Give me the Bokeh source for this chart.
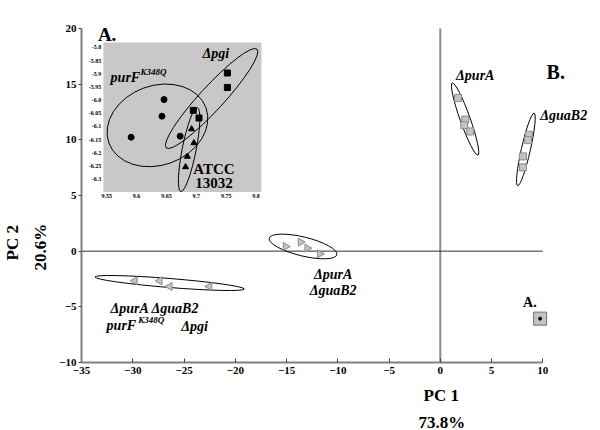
import math
from bokeh.plotting import figure
from bokeh.models import Range1d, FixedTicker, Label, Title
from bokeh.embed import file_html
from bokeh.resources import INLINE
from bokeh.core.properties import value

# ---------------- main plot data ----------------
x_ticks = [-35, -30, -25, -20, -15, -10, -5, 0, 5, 10]
y_ticks = [-10, -5, 0, 5, 10, 15, 20]

purA_x = [1.73, 2.44, 2.34, 2.92]
purA_y = [13.76, 11.82, 11.31, 10.75]
guaB2_x = [8.64, 8.55, 8.06, 8.06]
guaB2_y = [10.45, 9.97, 8.51, 7.53]
purA_guaB2_x = [-15.09, -13.63, -12.98, -11.75]
purA_guaB2_y = [0.42, 0.81, 0.27, -0.24]
quad_x = [-29.79, -27.37, -26.40, -22.52]
quad_y = [-2.66, -2.66, -3.17, -3.17]
inset_ref_x = [9.74]
inset_ref_y = [-6.06]

# confidence ellipses (centre, width in x units, height in y units, angle deg)
ell_x = [2.42, 8.35, -13.39, -26.40]
ell_y = [11.87, 9.14, 0.42, -2.86]
ell_w = [7.47, 7.27, 6.79, 14.60]
ell_h = [0.90, 0.81, 1.70, 0.81]
ell_angle = [-70.4, 77.2, -13.7, -4.6]

# ---------------- inset (A.) data ----------------
ix_ticks = [9.55, 9.6, 9.65, 9.7, 9.75, 9.8]
ix_labels = ["9.55", "9.6", "9.65", "9.7", "9.75", "9.8"]
iy_ticks = [-5.8, -5.85, -5.9, -5.95, -6.0, -6.05, -6.1, -6.15, -6.2, -6.25, -6.3]
iy_labels = ["-5.8", "-5.85", "-5.9", "-5.95", "-6.0", "-6.05", "-6.1", "-6.15", "-6.2", "-6.25", "-6.3"]
inset_xlim = (9.5445, 9.809)
inset_ylim = (-6.349, -5.781)

purF_x = [9.591, 9.6425, 9.646, 9.673]
purF_y = [-6.141, -6.061, -5.998, -6.137]
pgi_x = [9.752, 9.752, 9.695, 9.7045]
pgi_y = [-5.897, -5.952, -6.039, -6.068]
atcc_x = [9.692, 9.696, 9.685, 9.682]
atcc_y = [-6.110, -6.163, -6.214, -6.254]

iell_x = [9.635, 9.7256, 9.688]
iell_y = [-6.096, -5.994, -6.188]
iell_w = [0.1728, 0.2243, 0.1429]
iell_h = [0.3022, 0.0907, 0.0529]
iell_angle = [20, 47.4, 78.8]

# ---------------- layout ----------------
W, H = 600, 430
AX_L, AX_T, AX_B = 78, 28, 363          # pixel positions of x=-35, y=20, y=-10
BL, BR, BT = AX_L, 5, 17
BB = H - AX_B
FW, FH = W - BL - BR, H - BT - BB
px_per_x = 464 / 45
px_per_y = (AX_B - AX_T) / (y_ticks[-1] - y_ticks[0])
x_end = x_ticks[0] + FW / px_per_x
y_end = y_ticks[-1] + (AX_T - BT) / px_per_y

p = figure(width=W, height=H,
           x_range=Range1d(x_ticks[0], x_end), y_range=Range1d(y_ticks[0], y_end),
           min_border_left=BL, min_border_right=BR, min_border_top=BT, min_border_bottom=BB,
           toolbar_location=None, output_backend="svg", outline_line_color=None)
p.grid.visible = False

# inset placed via extra ranges: inset box in frame pixels
box_l, box_r, box_t, box_b = 100 - BL, 259 - BL, 42 - BT, 192 - BT
sx = (inset_xlim[1] - inset_xlim[0]) / (box_r - box_l)
ix_start = inset_xlim[0] - box_l * sx
sy = (inset_ylim[1] - inset_ylim[0]) / (box_b - box_t)
iy_end = inset_ylim[1] + box_t * sy
p.extra_x_ranges = {"ix": Range1d(ix_start, ix_start + FW * sx)}
p.extra_y_ranges = {"iy": Range1d(iy_end - FH * sy, iy_end)}

FONT = "Liberation Serif"

for ax, ticks in ((p.xaxis, x_ticks), (p.yaxis, y_ticks)):
    ax.ticker = FixedTicker(ticks=ticks)
    ax.bounds = (ticks[0], ticks[-1])
    ax.axis_line_color = "#808080"
    ax.axis_line_width = 2
    ax.major_tick_line_color = "#404040"
    ax.minor_tick_in = 0
    ax.minor_tick_out = 0
    ax.major_label_text_font = FONT
    ax.major_label_text_font_style = "bold"
    ax.major_label_text_font_size = "11px"
    ax.major_label_text_color = "black"
p.xaxis.major_tick_in = 4
p.xaxis.major_tick_out = 0
p.xaxis.major_label_standoff = 4
p.yaxis.major_tick_in = 0
p.yaxis.major_tick_out = 3
p.yaxis.major_label_standoff = 2


# axis titles (two lines each) as titles in the side panels
def side_title(text, place, offset, standoff):
    t = Title(text=text, align="left", offset=offset, standoff=standoff,
              text_font=FONT, text_font_size="17px", text_font_style="bold", text_color="black",
              text_line_height=1.0)
    p.add_layout(t, place)


side_title("PC 1", "below", 342, 14)
side_title("73.8%", "below", 337, -2)
side_title("20.6%", "left", 92, 14)
side_title("PC 2", "left", 102, 0)

# zero lines
p.segment(x0=[0], y0=[y_ticks[0]], x1=[0], y1=[y_ticks[-1]], line_color="#8c8c8c", line_width=2)
p.segment(x0=[x_ticks[0]], y0=[0], x1=[x_ticks[-1]], y1=[0], line_color="#303030", line_width=1)

# inset background
p.quad(left=[inset_xlim[0]], right=[inset_xlim[1]], bottom=[inset_ylim[0]], top=[inset_ylim[1]],
       x_range_name="ix", y_range_name="iy", fill_color="#c8c8c8", line_color=None)

# main ellipses and markers
p.ellipse(x=ell_x, y=ell_y, width=ell_w, height=ell_h, angle=ell_angle, angle_units="deg",
          fill_color=None, line_color="black", line_width=1)
mk = dict(fill_color="#c4c4c4", line_color="#8a8a8a", line_width=1)
p.scatter(purA_x, purA_y, marker="square", size=7, **mk)
p.scatter(guaB2_x, guaB2_y, marker="square", size=7, **mk)
p.scatter(purA_guaB2_x, purA_guaB2_y, marker="triangle", size=8, angle=-math.pi / 2, **mk)
p.scatter(quad_x, quad_y, marker="triangle", size=8, angle=math.pi / 2, **mk)
p.scatter(inset_ref_x, inset_ref_y, marker="square", size=13, fill_color="#c4c4c4", line_color="#707070")
p.scatter(inset_ref_x, inset_ref_y, marker="circle", size=3, color="black")

# inset ellipses and markers
p.ellipse(x=iell_x, y=iell_y, width=iell_w, height=iell_h, angle=iell_angle, angle_units="deg",
          x_range_name="ix", y_range_name="iy", fill_color=None, line_color="black", line_width=1)
p.scatter(purF_x, purF_y, marker="circle", size=6, color="black", x_range_name="ix", y_range_name="iy")
p.scatter(pgi_x, pgi_y, marker="square", size=6, color="black", x_range_name="ix", y_range_name="iy")
p.scatter(atcc_x, atcc_y, marker="triangle", size=6, color="black", x_range_name="ix", y_range_name="iy")

# inset tick labels
p.text(x=ix_ticks, y=[inset_ylim[0]] * len(ix_ticks), text=ix_labels, x_range_name="ix", y_range_name="iy",
       text_font=value(FONT), text_font_style="bold", text_font_size="6px", text_align="center",
       text_baseline="top", y_offset=2, text_color="black")
p.text(x=[inset_xlim[0]] * len(iy_ticks), y=iy_ticks, text=iy_labels, x_range_name="ix", y_range_name="iy",
       text_font=value(FONT), text_font_style="bold", text_font_size="6px", text_align="right",
       text_baseline="middle", x_offset=-2, text_color="black")


def lab(x, y, text, size, style="bold", align="center", baseline="middle", rx="default", ry="default"):
    p.add_layout(Label(x=x, y=y, text=text, text_font=FONT, text_font_size=f"{size}px",
                       text_font_style=style, text_align=align, text_baseline=baseline,
                       x_range_name=rx, y_range_name=ry, text_color="black"))


# main labels
lab(11.26, 16.06, "B.", 20)
lab(3.41, 15.79, "ΔpurA", 14, "bold italic")
lab(12.04, 12.21, "ΔguaB2", 14, "bold italic")
lab(-10.45, -2.12, "ΔpurA", 14, "bold italic")
lab(-10.45, -3.55, "ΔguaB2", 14, "bold italic")
lab(-27.85, -5.16, "ΔpurA ΔguaB2", 14, "bold italic")
lab(-32.55, -6.69, "purF", 14, "bold italic", align="left")
lab(-29.47, -6.15, "K348Q", 9, "bold italic", align="left")
lab(-23.97, -6.75, "Δpgi", 14, "bold italic")
lab(8.74, -4.63, "A.", 14)

# inset labels
lab(-32.5, 19.45, "A.", 19)
lab(9.7327, -5.824, "Δpgi", 14, "bold italic", rx="ix", ry="iy")
lab(9.5566, -5.913, "purF", 14, "bold italic", align="left", rx="ix", ry="iy")
lab(9.6065, -5.894, "K348Q", 9, "bold italic", align="left", rx="ix", ry="iy")
lab(9.7294, -6.263, "ATCC", 15, rx="ix", ry="iy")
lab(9.7294, -6.316, "13032", 15, rx="ix", ry="iy")

open("out.html", "w").write(file_html(p, INLINE))
